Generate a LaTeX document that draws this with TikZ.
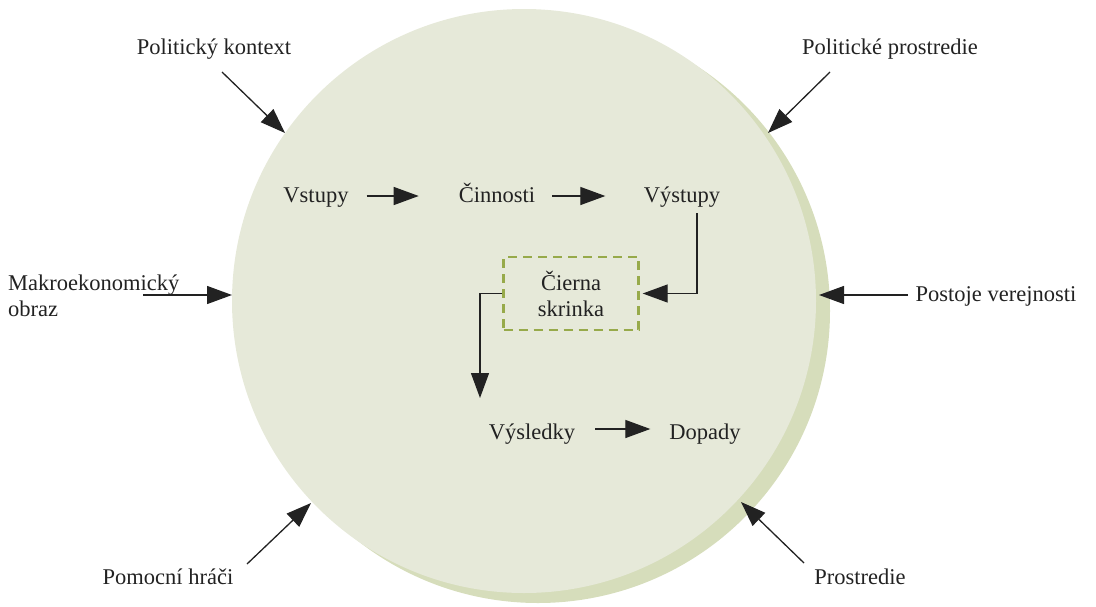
\documentclass[tikz,border=0pt]{standalone}
\usepackage{fontspec}
\setmainfont{Liberation Serif}
\usetikzlibrary{arrows.meta}
\definecolor{disc}{HTML}{E6E9D9}
\definecolor{discshade}{HTML}{D6DDBB}
\definecolor{boxline}{HTML}{97AA4A}
\definecolor{ink}{HTML}{222222}
\tikzset{
  lbl/.style={inner sep=0pt, text=ink, font=\fontsize{22.5}{26}\selectfont},
  word/.style={lbl, text height=15pt, text depth=5pt},
  flow/.style={draw=ink, line width=1.3pt, -{Triangle[length=25pt,width=18pt]}},
  blackbox/.style={draw=boxline, line width=2.4pt, dash pattern=on 9pt off 6pt,
    minimum width=135pt, minimum height=73pt, align=center, inner sep=0pt}
}
\begin{document}
\begin{tikzpicture}[x=1pt,y=-1pt]
\useasboundingbox (0,0) rectangle (1096,606);
% background disc with its shaded rim
\fill[discshade] (538,311) circle (292);
\fill[disc] (524,301) circle (292);

% outer influences
\node[word] (pk) at (214,49) {Politický kontext};
\node[word] (pp) at (890,49) {Politické prostredie};
\node[lbl, align=left, anchor=west] (mo) at (8,296) {Makroekonomický\\obraz};
\node[word] (pv) at (996,296) {Postoje verejnosti};
\node[word] (ph) at (168,579) {Pomocní hráči};
\node[word] (pr) at (860,579) {Prostredie};

\coordinate (pkS) at (222,72);  \coordinate (pkE) at (285,133);
\coordinate (ppS) at (830,72);  \coordinate (ppE) at (768,133);
\coordinate (moS) at (143,295); \coordinate (moE) at (232,295);
\coordinate (pvS) at (908,295); \coordinate (pvE) at (819,295);
\coordinate (phS) at (247,564); \coordinate (phE) at (311,503);
\coordinate (prS) at (804,563); \coordinate (prE) at (741,502);

\draw[flow] (pkS) -- (pkE);
\draw[flow] (ppS) -- (ppE);
\draw[flow] (moS) -- (moE);
\draw[flow] (pvS) -- (pvE);
\draw[flow] (phS) -- (phE);
\draw[flow] (prS) -- (prE);

% inner chain
\node[word] (vs) at (316,197) {Vstupy};
\node[word] (ci) at (497,197) {Činnosti};
\node[word] (vy) at (682,197) {Výstupy};
\node[blackbox, lbl] (bb) at (571,293.5) {Čierna\\skrinka};
\node[word] (vd) at (532,434) {Výsledky};
\node[word] (dp) at (705,434) {Dopady};

\draw[flow] (vs.east) ++(18,-1) -- ++(52,0);
\draw[flow] (ci.east) ++(17,-1) -- ++(53,0);
\draw[flow] (697,213) |- ([xshift=3pt]bb.east);
\draw[flow] (bb.west) -| (480,398);
\draw[flow] (vd.east) ++(20,-5) -- ++(55,0);
\end{tikzpicture}
\end{document}
